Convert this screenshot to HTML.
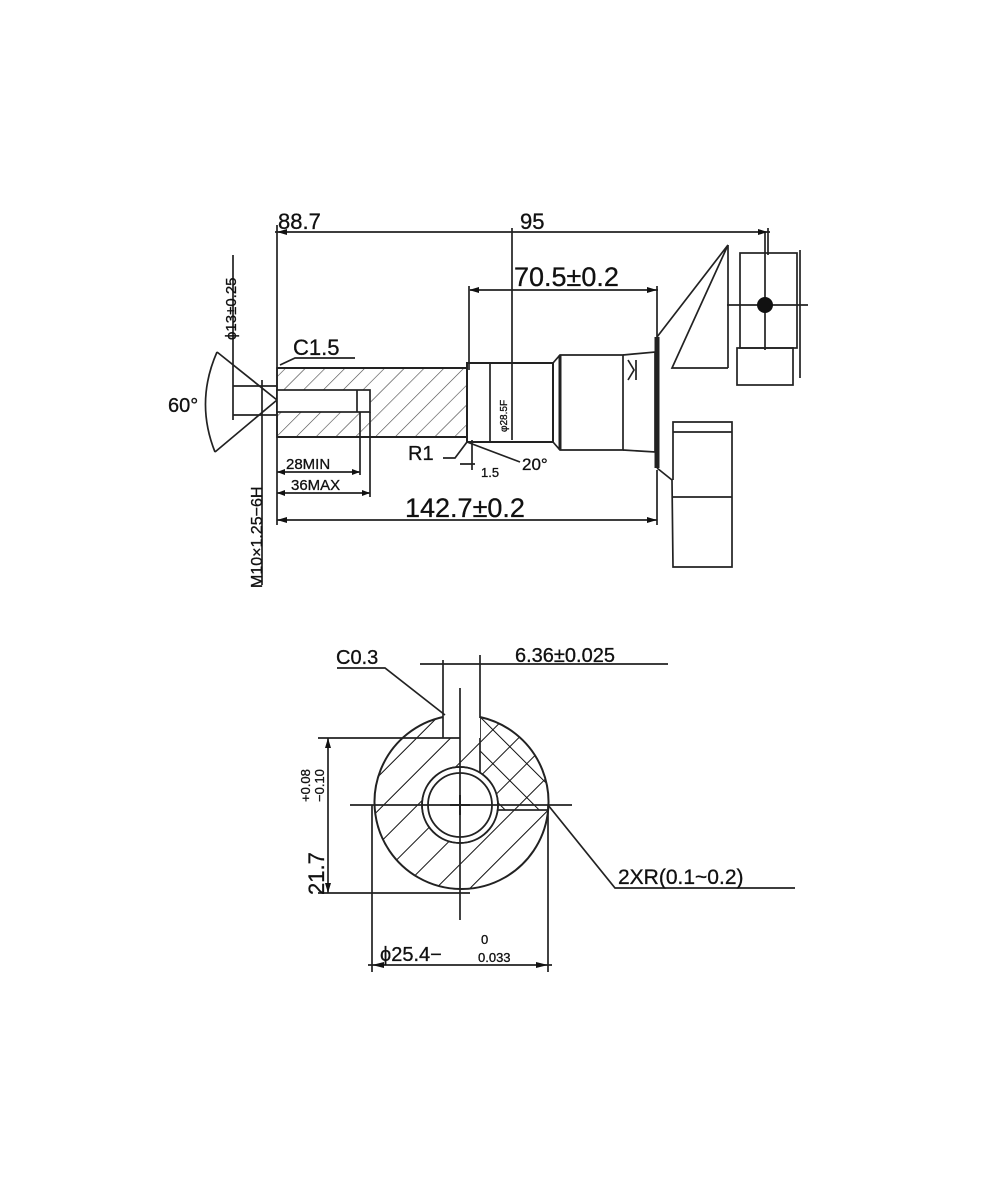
<!DOCTYPE html>
<html><head><meta charset="utf-8"><style>
html,body{margin:0;padding:0;background:#fff;}
svg{display:block;}
text{font-family:"Liberation Sans",Arial,sans-serif;fill:#111;stroke:#111;stroke-width:0.3;}
</style></head><body>
<svg width="1000" height="1200" viewBox="0 0 1000 1200" xmlns="http://www.w3.org/2000/svg">
<defs>
<pattern id="h1" patternUnits="userSpaceOnUse" width="14" height="14" patternTransform="rotate(45)">
<line x1="0" y1="0" x2="0" y2="14" stroke="#444" stroke-width="1.2"/></pattern>
<pattern id="h2" patternUnits="userSpaceOnUse" width="24" height="24" patternTransform="rotate(45)">
<line x1="0" y1="0" x2="0" y2="24" stroke="#111" stroke-width="2"/></pattern>
<pattern id="h3" patternUnits="userSpaceOnUse" width="24" height="24" patternTransform="rotate(-45)">
<line x1="0" y1="0" x2="0" y2="24" stroke="#111" stroke-width="2"/></pattern>
<clipPath id="sec"><path d="M443,717 A87,87 0 1 0 480,717 L480,738 L443,738 Z"/></clipPath>
</defs>
<g fill="none" stroke="#222" stroke-width="1.7">
<line x1="275" y1="232" x2="770" y2="232"/>
<line x1="277" y1="225" x2="277" y2="525"/>
<line x1="512" y1="228" x2="512" y2="440"/>
<line x1="768" y1="228" x2="768" y2="255"/>
<line x1="470" y1="290" x2="658" y2="290"/>
<line x1="469" y1="286" x2="469" y2="370"/>
<line x1="657" y1="286" x2="657" y2="340"/>
<rect x="277" y="368" width="190" height="69" fill="url(#h1)"/>
<rect x="277" y="390" width="93" height="22" fill="#fff"/>
<line x1="357" y1="390" x2="357" y2="412"/>
<line x1="277" y1="368" x2="467" y2="368" stroke-width="2"/>
<line x1="277" y1="437" x2="467" y2="437" stroke-width="2"/>
<path d="M467,363 L553,363 L553,442 L467,442 Z" stroke-width="2"/>
<line x1="490" y1="363" x2="490" y2="442"/>
<path d="M553,363 L560,355 L623,355 L623,450 L560,450 L553,442"/>
<line x1="560" y1="355" x2="560" y2="450" stroke-width="3"/>
<path d="M623,355 L655,352 L655,452 L623,450"/>
<line x1="657" y1="337" x2="657" y2="468" stroke-width="5"/>
<path d="M628,360 l6,10 l-6,10 M636,360 v20"/>
<path d="M657,337 L728,245 L672,368 L728,368"/>
<line x1="728" y1="245" x2="728" y2="368"/>
<path d="M657,468 L672,480 L673,567 L732,567 L732,422 L673,422 L673,480"/>
<line x1="673" y1="432" x2="732" y2="432"/>
<line x1="673" y1="497" x2="732" y2="497"/>
<rect x="740" y="253" width="57" height="95"/>
<line x1="800" y1="250" x2="800" y2="378"/>
<rect x="737" y="348" width="56" height="37"/>
<line x1="765" y1="232" x2="765" y2="350"/>
<line x1="727" y1="305" x2="808" y2="305"/>
<path d="M277,400 L217,352 M277,400 L215,452 M217,352 Q195,402 215,452"/>
<line x1="233" y1="386" x2="277" y2="386"/>
<line x1="233" y1="415" x2="277" y2="415"/>
<line x1="233" y1="255" x2="233" y2="420"/>
<line x1="262" y1="380" x2="262" y2="585"/>
<path d="M280,365 L295,358 L355,358"/>
<line x1="277" y1="472" x2="360" y2="472"/>
<line x1="360" y1="412" x2="360" y2="475"/>
<line x1="277" y1="493" x2="370" y2="493"/>
<line x1="370" y1="412" x2="370" y2="497"/>
<line x1="277" y1="520" x2="657" y2="520"/>
<line x1="657" y1="470" x2="657" y2="525"/>
<path d="M443,458 L455,458 L467,442 M460,464 L475,464 M467,442 L520,462"/>
<line x1="472" y1="440" x2="472" y2="470"/>
<g clip-path="url(#sec)"><rect x="370" y="700" width="180" height="200" fill="url(#h2)"/>
<rect x="480" y="700" width="80" height="110" fill="url(#h3)"/></g>
<circle cx="460" cy="805" r="38" fill="#fff"/>
<path d="M443,717 A87,87 0 1 0 480,717" stroke-width="2"/>
<circle cx="460" cy="805" r="38" stroke-width="1.8"/>
<circle cx="460" cy="805" r="32" stroke-width="1.8"/>
<line x1="443" y1="660" x2="443" y2="738"/>
<line x1="480" y1="655" x2="480" y2="718"/>
<line x1="420" y1="664" x2="668" y2="664"/>
<line x1="460" y1="688" x2="460" y2="920"/>
<line x1="350" y1="805" x2="572" y2="805"/>
<line x1="450" y1="805" x2="470" y2="805" stroke-width="2"/>
<line x1="460" y1="795" x2="460" y2="815" stroke-width="2"/>
<line x1="318" y1="738" x2="460" y2="738"/>
<line x1="318" y1="893" x2="470" y2="893"/>
<line x1="328" y1="738" x2="328" y2="893"/>
<line x1="372" y1="805" x2="372" y2="972"/>
<line x1="548" y1="805" x2="548" y2="972"/>
<line x1="368" y1="965" x2="552" y2="965"/>
<path d="M337,668 L385,668 L445,715"/>
<path d="M548,805 L615,888 L795,888"/>
</g>
<circle cx="765" cy="305" r="8" fill="#111"/>
<g fill="#111">
<path d="M277,232 l10,-3 v6z M768,232 l-10,-3 v6z M469,290 l10,-3 v6z M657,290 l-10,-3 v6z M277,520 l10,-3 v6z M657,520 l-10,-3 v6z M277,472 l8,-3 v6z M360,472 l-8,-3 v6z M277,493 l8,-3 v6z M370,493 l-8,-3 v6z M372,965 l12,-3 v6z M548,965 l-12,-3 v6z M328,738 l-3,10 h6z M328,893 l-3,-10 h6z"/>
</g>
<text x="278" y="229" font-size="22">88.7</text>
<text x="520" y="229" font-size="22">95</text>
<text x="514" y="286" font-size="27">70.5±0.2</text>
<text x="293" y="355" font-size="22">C1.5</text>
<text x="168" y="412" font-size="20">60°</text>
<text transform="translate(236,340) rotate(-90)" font-size="15">ϕ13±0.25</text>
<text transform="translate(262,588) rotate(-90)" font-size="16">M10×1.25−6H</text>
<text x="286" y="469" font-size="15">28MIN</text>
<text x="291" y="490" font-size="15">36MAX</text>
<text x="408" y="460" font-size="20">R1</text>
<text x="481" y="477" font-size="13">1.5</text>
<text x="522" y="470" font-size="17">20°</text>
<text transform="translate(507,432) rotate(-90)" font-size="10">φ28.5F</text>
<text x="405" y="517" font-size="27">142.7±0.2</text>
<text x="336" y="664" font-size="20">C0.3</text>
<text x="515" y="662" font-size="20">6.36±0.025</text>
<text x="618" y="884" font-size="21">2XR(0.1~0.2)</text>
<text transform="translate(324,895) rotate(-90)" font-size="22">21.7</text>
<text transform="translate(310,802) rotate(-90)" font-size="13">+0.08</text>
<text transform="translate(324,802) rotate(-90)" font-size="13">−0.10</text>
<text x="380" y="961" font-size="20">ϕ25.4−</text>
<text x="481" y="944" font-size="13">0</text>
<text x="478" y="962" font-size="13">0.033</text>
</svg>
</body></html>
